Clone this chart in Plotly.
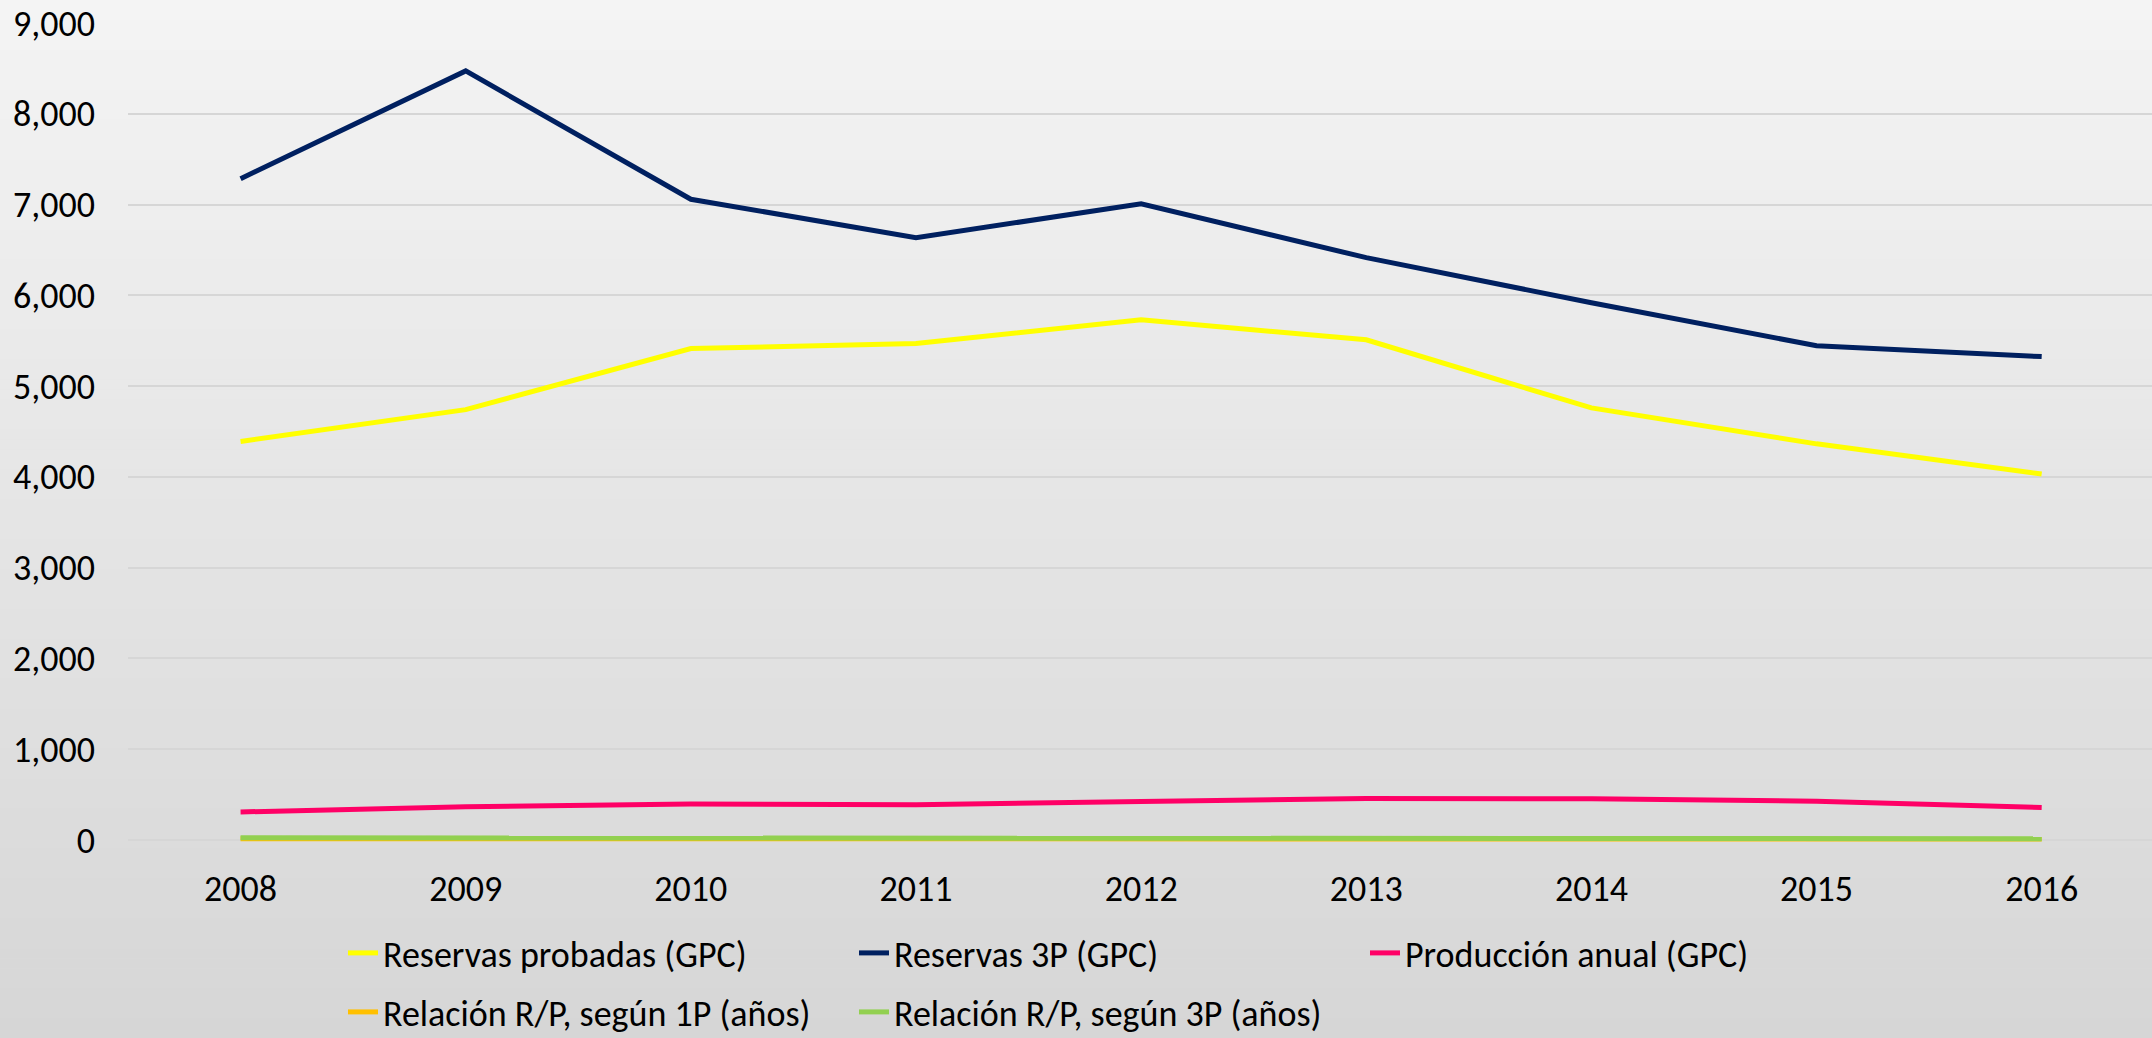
import plotly.graph_objects as go

years = ["2008", "2009", "2010", "2011", "2012", "2013", "2014", "2015", "2016"]
reservas_probadas = [4390, 4741, 5414, 5469, 5730, 5510, 4760, 4364, 4032]
reservas_3p = [7285, 8472, 7058, 6636, 7008, 6415, 5918, 5445, 5325]
produccion = [309, 365, 398, 387, 425, 457, 455, 428, 358]
rp_1p = [14, 13, 14, 14, 13, 12, 10, 10, 11]
rp_3p = [24, 23, 18, 17, 16, 14, 13, 13, 15]

series_names = [
    "Reservas probadas (GPC)",
    "Reservas 3P (GPC)",
    "Producción anual (GPC)",
    "Relación R/P, según 1P (años)",
    "Relación R/P, según 3P (años)",
]
series_colors = ["#FFFF00", "#002060", "#FF0066", "#FFC000", "#92D050"]
series_values = [reservas_probadas, reservas_3p, produccion, rp_1p, rp_3p]
series_legend = ["legend", "legend", "legend", "legend2", "legend2"]
y_ticks = [0, 1000, 2000, 3000, 4000, 5000, 6000, 7000, 8000, 9000]

FONT = "Carlito, Calibri, Lato, sans-serif"
FS = 36
W, H = 2152, 1038
ML, MR, MT, MB = 128, 0, 23, 194
Y_MIN = -44  # small pad below zero so the near-zero lines are not clipped

fig = go.Figure()
for name, color, vals, lg in zip(series_names, series_colors, series_values, series_legend):
    fig.add_trace(go.Scatter(
        x=years, y=vals, name=name, mode="lines",
        line=dict(color=color, width=5),
        legend=lg,
    ))

# background vertical gradient (figure-wide), drawn as thin bands
plot_h = H - MT - MB
n = 104
shapes = []
top_c, bot_c = 244, 214
for i in range(n):
    y_top_px = i * H / n
    y_bot_px = (i + 1) * H / n + 0.6
    c = round(top_c + (bot_c - top_c) * (i + 0.5) / n)
    shapes.append(dict(
        type="rect", xref="paper", yref="paper",
        x0=-0.2, x1=1.2,
        y0=(H - MB - y_bot_px) / plot_h, y1=(H - MB - y_top_px) / plot_h,
        fillcolor=f"rgb({c},{c},{c})", line=dict(width=0), layer="below",
    ))

legend_common = dict(
    orientation="h", xanchor="left", yanchor="middle",
    font=dict(family=FONT, size=36, color="#000000"),
    bgcolor="rgba(0,0,0,0)", entrywidth=466, entrywidthmode="pixels",
    itemclick=False,
)

fig.update_layout(
    width=W, height=H,
    margin=dict(l=ML, r=MR, t=MT, b=MB, autoexpand=False),
    paper_bgcolor="#d9d9d9",
    plot_bgcolor="rgba(0,0,0,0)",
    font=dict(family=FONT, size=FS, color="#000000"),
    shapes=shapes,
    showlegend=True,
    legend=dict(x=(343 - ML) / (W - ML - MR), y=(H - MB - 953) / plot_h, **legend_common),
    legend2=dict(x=(343 - ML) / (W - ML - MR), y=(H - MB - 1012) / plot_h, **legend_common),
    xaxis=dict(
        type="category", range=[-0.5, 8.49],
        showgrid=False, zeroline=False, showline=False, ticks="",
        tickfont=dict(family=FONT, size=FS, color="#000000"),
        ticklabelstandoff=20,
    ),
    yaxis=dict(
        range=[Y_MIN, 9000], tickvals=y_ticks, tickformat=",d",
        showgrid=True, gridcolor="#d6d6d6", gridwidth=1.5,
        zeroline=False, showline=False, ticks="",
        tickfont=dict(family=FONT, size=FS, color="#000000"),
        ticklabelstandoff=32,
    ),
)

fig.write_html(
    "out.html",
    config={"displayModeBar": False},
    post_script="document.body.style.margin='0';document.body.style.padding='0';",
)
